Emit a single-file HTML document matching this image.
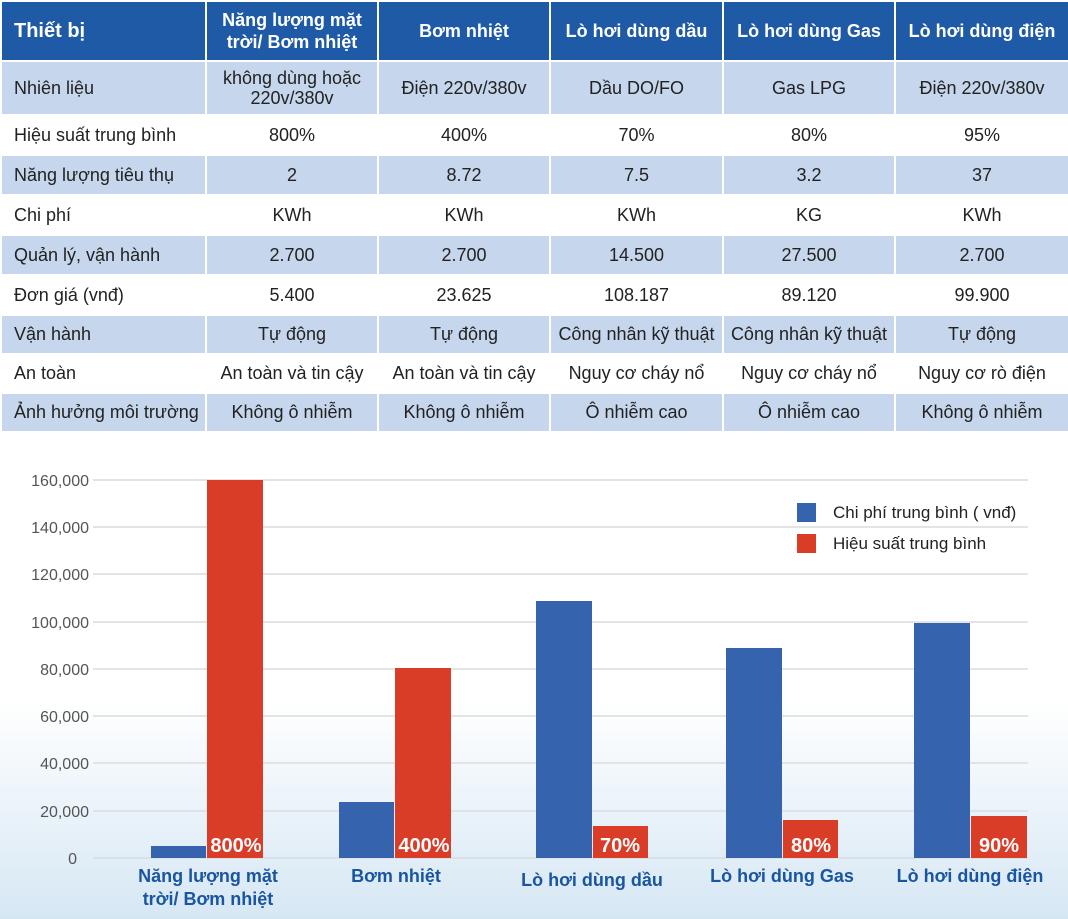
<!DOCTYPE html>
<html><head><meta charset="utf-8"><style>
body{margin:0;width:1068px;height:919px;overflow:hidden;font-family:"Liberation Sans",sans-serif;background:linear-gradient(#fff 0,#fff 700px,#d6e7f4 919px);}
table{position:absolute;left:0;top:0;border-collapse:collapse;width:1068px;table-layout:fixed}
td,th{border:2px solid #fff;font-size:18px;color:#222;text-align:center;padding:0;}
th{background:#1f5aa6;color:#fff;font-weight:bold;height:58px;line-height:22px;font-size:18px}
th:first-child{text-align:left;padding-left:12px;font-size:20px}
td:first-child{text-align:left;padding-left:12px}
tr.b td{background:#c6d6ec}
tr.w td{background:#fff}
</style></head><body>
<table>
<colgroup><col style="width:205px"><col style="width:172px"><col style="width:172px"><col style="width:173px"><col style="width:172px"><col style="width:174px"></colgroup>
<tr><th>Thiết bị</th><th>Năng lượng mặt<br>trời/ Bơm nhiệt</th><th>Bơm nhiệt</th><th>Lò hơi dùng dầu</th><th>Lò hơi dùng Gas</th><th>Lò hơi dùng điện</th></tr>
<tr class="b" style="height:54px"><td>Nhiên liệu</td><td style="line-height:20px">không dùng hoặc<br>220v/380v</td><td>Điện 220v/380v</td><td>Dầu DO/FO</td><td>Gas LPG</td><td>Điện 220v/380v</td></tr>
<tr class="w" style="height:40px"><td>Hiệu suất trung bình</td><td>800%</td><td>400%</td><td>70%</td><td>80%</td><td>95%</td></tr>
<tr class="b" style="height:40px"><td>Năng lượng tiêu thụ</td><td>2</td><td>8.72</td><td>7.5</td><td>3.2</td><td>37</td></tr>
<tr class="w" style="height:40px"><td>Chi phí</td><td>KWh</td><td>KWh</td><td>KWh</td><td>KG</td><td>KWh</td></tr>
<tr class="b" style="height:40px"><td>Quản lý, vận hành</td><td>2.700</td><td>2.700</td><td>14.500</td><td>27.500</td><td>2.700</td></tr>
<tr class="w" style="height:40px"><td>Đơn giá (vnđ)</td><td>5.400</td><td>23.625</td><td>108.187</td><td>89.120</td><td>99.900</td></tr>
<tr class="b" style="height:39px"><td>Vận hành</td><td>Tự động</td><td>Tự động</td><td>Công nhân kỹ thuật</td><td>Công nhân kỹ thuật</td><td>Tự động</td></tr>
<tr class="w" style="height:39px"><td>An toàn</td><td>An toàn và tin cậy</td><td>An toàn và tin cậy</td><td>Nguy cơ cháy nổ</td><td>Nguy cơ cháy nổ</td><td>Nguy cơ rò điện</td></tr>
<tr class="b" style="height:39px"><td>Ảnh hưởng môi trường</td><td>Không ô nhiễm</td><td>Không ô nhiễm</td><td>Ô nhiễm cao</td><td>Ô nhiễm cao</td><td>Không ô nhiễm</td></tr>
</table>
<svg width="1068" height="919" style="position:absolute;left:0;top:0" font-family="Liberation Sans, sans-serif">
<g stroke="#dcdcdc" stroke-width="1.5">
<line x1="93" x2="1028" y1="480" y2="480"/><line x1="93" x2="1028" y1="527" y2="527"/><line x1="93" x2="1028" y1="574" y2="574"/><line x1="93" x2="1028" y1="622" y2="622"/><line x1="93" x2="1028" y1="669" y2="669"/><line x1="93" x2="1028" y1="716" y2="716"/><line x1="93" x2="1028" y1="763" y2="763"/><line x1="93" x2="1028" y1="811" y2="811"/><line x1="93" x2="1028" y1="858" y2="858"/>
</g>
<g font-size="16" fill="#555" text-anchor="end">
<text x="89" y="486">160,000</text><text x="89" y="533">140,000</text><text x="89" y="580">120,000</text><text x="89" y="628">100,000</text><text x="89" y="675">80,000</text><text x="89" y="722">60,000</text><text x="89" y="769">40,000</text><text x="89" y="817">20,000</text><text x="77" y="864">0</text>
</g>
<g fill="#3563ad">
<rect x="151" y="846" width="55" height="12"/><rect x="339" y="802" width="55" height="56"/><rect x="536" y="601" width="56" height="257"/><rect x="726" y="648" width="56" height="210"/><rect x="914" y="623" width="56" height="235"/>
<rect x="797" y="503" width="19" height="19"/>
</g>
<g fill="#d93c27">
<rect x="207" y="480" width="56" height="378"/><rect x="395" y="668" width="56" height="190"/><rect x="593" y="826" width="55" height="32"/><rect x="783" y="820" width="55" height="38"/><rect x="971" y="816" width="56" height="42"/>
<rect x="797" y="534" width="19" height="19"/>
</g>
<g fill="#fff" font-weight="bold" font-size="20" text-anchor="middle">
<text x="236" y="852">800%</text><text x="424" y="852">400%</text><text x="620" y="852">70%</text><text x="811" y="852">80%</text><text x="999" y="852">90%</text>
</g>
<g font-size="17" fill="#222"><text x="833" y="518">Chi phí trung bình ( vnđ)</text><text x="833" y="549">Hiệu suất trung bình</text></g>
<g fill="#1a56a0" font-weight="900" font-size="18" text-anchor="middle">
<text x="208" y="882">Năng lượng mặt</text><text x="208" y="905">trời/ Bơm nhiệt</text>
<text x="396" y="882">Bơm nhiệt</text><text x="592" y="886">Lò hơi dùng dầu</text><text x="782" y="882">Lò hơi dùng Gas</text><text x="970" y="882">Lò hơi dùng điện</text>
</g>
</svg>
</body></html>
